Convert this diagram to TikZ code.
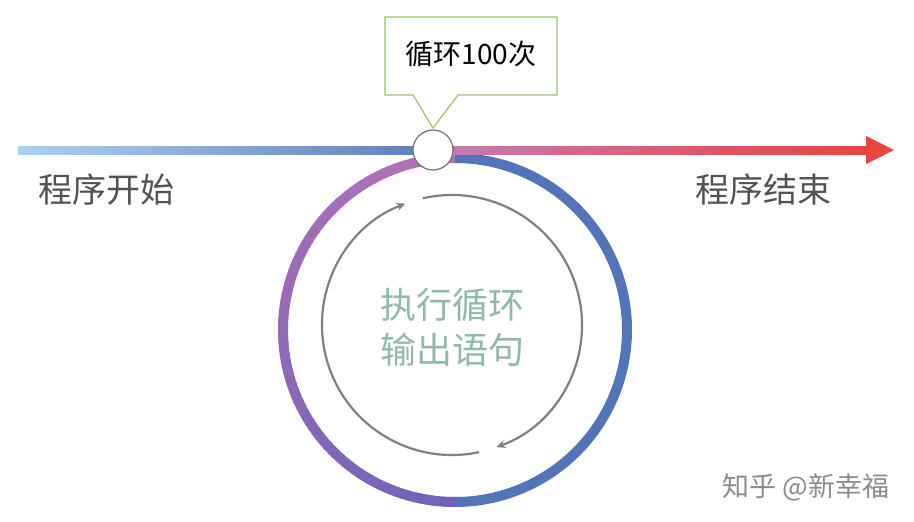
\documentclass[tikz,border=0pt]{standalone}
\usepackage{fontspec}
\setmainfont{Noto Sans CJK SC}
\usetikzlibrary{arrows.meta}
\definecolor{lb}{HTML}{A8D2F0}
\definecolor{db}{HTML}{5B7FC0}
\definecolor{pk}{HTML}{C47CB6}
\definecolor{rd}{HTML}{E8453C}
\definecolor{rtop}{HTML}{B872B8}
\definecolor{rbot}{HTML}{6E62B6}
\definecolor{rblue}{HTML}{5274B8}
\definecolor{grn}{HTML}{9BC46A}
\definecolor{teal}{HTML}{8FB9A9}
\tikzset{lbl/.style={text=black!68,font=\fontsize{34pt}{38pt}\selectfont},
 inner/.style={draw=black!50,line width=2.2pt,-{Stealth[length=9pt,width=8pt]}}}
\begin{document}
\begin{tikzpicture}[x=1pt,y=-1pt]
\useasboundingbox (0,0) rectangle (914,522);
% ring (y axis flipped: angle -90 is top)
\draw[line width=10pt,rblue] (455,330) ++(-90:172) arc (-90:91:172);
\foreach \a in {0,2,...,178}{
  \pgfmathsetmacro{\t}{\a/1.8}
  \draw[line width=10pt,color=rbot!\t!rtop] (455,330) ++({-90-\a}:172) arc ({-90-\a}:{-92.6-\a}:172);
}
% line
\shade[left color=lb,right color=db] (18,146) rectangle (433,154);
\shade[left color=pk,right color=rd] (433,146) rectangle (866,154);
\fill[rd] (866,136) -- (894,150) -- (866,164) -- cycle;
% node
\node[circle,draw=black!55,fill=white,line width=1.2pt,minimum size=40pt,inner sep=0] (n) at (433,150) {};
% callout
\draw[grn,fill=white,line width=1.2pt] (385,17) -- (557,17) -- (557,95) -- (458,95) -- (433,128) -- (413,95) -- (385,95) -- cycle;
\node[font=\fontsize{28pt}{30pt}\selectfont] (c) at (471,54) {循环100次};
% inner arcs
\draw[inner] (452,325) ++(-103:130) arc (-103:70:130);
\draw[inner] (452,325) ++(78:130) arc (78:249:130);
% texts
\node[lbl] (s) at (106,190) {程序开始};
\node[lbl] (e) at (763,190) {程序结束};
\node[text=teal,font=\fontsize{36pt}{45pt}\selectfont,align=center] (m) at (452,327) {执行循环\\输出语句};
\node[text=black!45,font=\fontsize{27pt}{30pt}\selectfont] (w) at (806,487) {知乎 @新幸福};
\end{tikzpicture}
\end{document}
